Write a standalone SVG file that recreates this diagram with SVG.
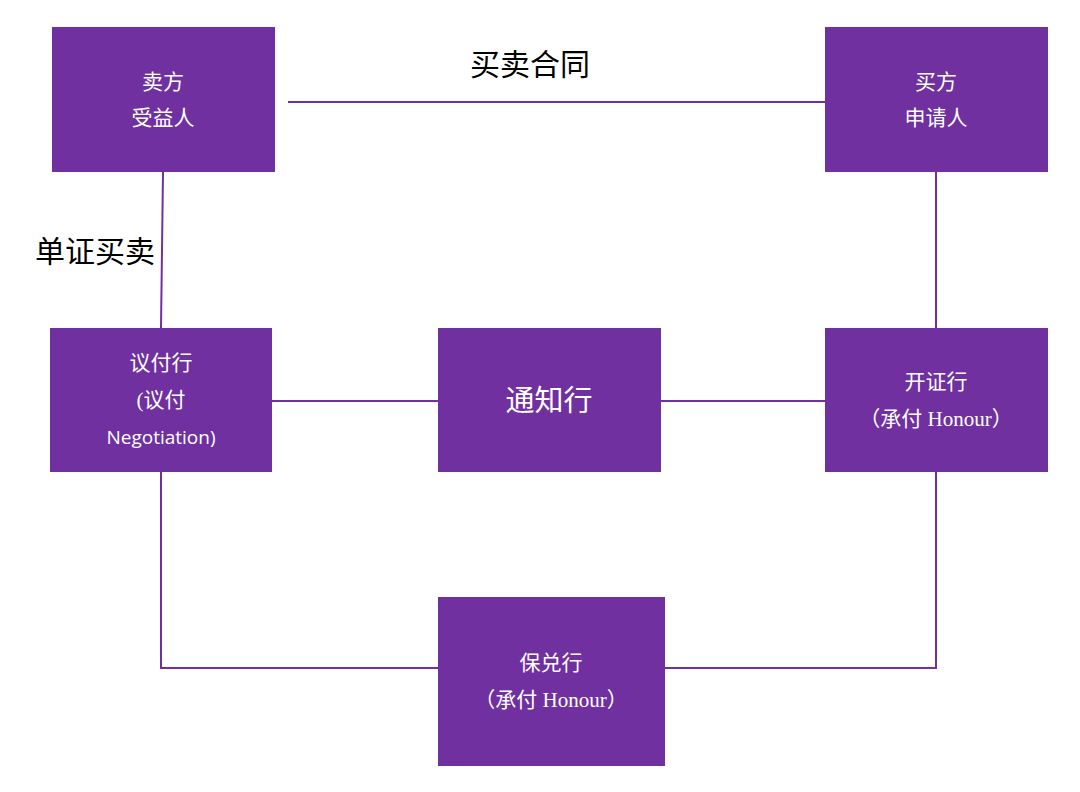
<svg xmlns="http://www.w3.org/2000/svg" width="1080" height="792" viewBox="0 0 1080 792">
<style>
.n{fill:#7030A0}
.t{fill:#fff;font-family:"Liberation Serif","Noto Sans CJK SC",serif;font-size:21px;text-anchor:middle}
.l{fill:#000;font-family:"Liberation Serif","Noto Sans CJK SC",serif;font-size:30px;text-anchor:middle}
.c{stroke:#7030A0;stroke-width:2;fill:none}
</style>
<rect width="1080" height="792" fill="#fff"/>
<g id="connectors" class="c">
<line x1="288" y1="102" x2="825" y2="102"/>
<line x1="163" y1="172" x2="161" y2="328"/>
<line x1="936" y1="172" x2="936" y2="328"/>
<line x1="272" y1="401" x2="438" y2="401"/>
<line x1="661" y1="401" x2="825" y2="401"/>
<polyline points="161,472 161,668 438,668"/>
<polyline points="665,668 936,668 936,472"/>
</g>
<text class="l" x="530" y="75">买卖合同</text>
<text class="l" x="95" y="262">单证买卖</text>
<g id="seller"><rect class="n" x="52" y="27" width="223" height="145"/><text class="t" x="163" y="89">卖方</text><text class="t" x="163" y="125">受益人</text></g>
<g id="buyer"><rect class="n" x="825" y="27" width="223" height="145"/><text class="t" x="936" y="89">买方</text><text class="t" x="936" y="125">申请人</text></g>
<g id="negotiating"><rect class="n" x="50" y="328" width="222" height="144"/><text class="t" x="161" y="370">议付行</text><text class="t" x="161" y="407">(议付</text><text class="t" x="161" y="444" style="font-family:'Open Sans','Noto Sans CJK SC',sans-serif;font-size:19px">Negotiation)</text></g>
<g id="advising"><rect class="n" x="438" y="328" width="223" height="144"/><text class="t" x="549" y="411" style="font-size:29px">通知行</text></g>
<g id="issuing"><rect class="n" x="825" y="328" width="223" height="144"/><text class="t" x="936" y="389">开证行</text><text class="t" x="936" y="426">（承付 Honour）</text></g>
<g id="confirming"><rect class="n" x="438" y="597" width="227" height="169"/><text class="t" x="551" y="670">保兑行</text><text class="t" x="551" y="707">（承付 Honour）</text></g>
</svg>
